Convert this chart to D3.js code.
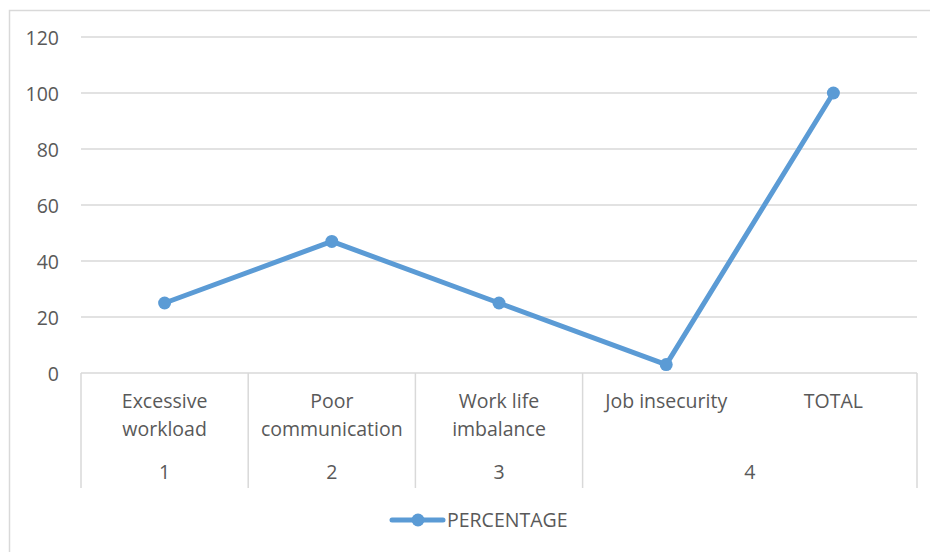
<!DOCTYPE html>
<html>
<head>
<meta charset="utf-8">
<script src="https://cdn.jsdelivr.net/npm/d3@7"></script>
<style>
  html, body { margin: 0; padding: 0; background: #fff; }
  svg { display: block; }
  text { font-family: "Open Sans", "Noto Sans", sans-serif; fill: #595959; }
</style>
</head>
<body>
<svg id="chart" width="930" height="552"></svg>
<script>
// Survey categories (inner level) and their group numbers (outer level)
const categories = ["Excessive workload", "Poor communication", "Work life imbalance", "Job insecurity", "TOTAL"];
const categoryLines = [["Excessive", "workload"], ["Poor", "communication"], ["Work life", "imbalance"], ["Job insecurity"], ["TOTAL"]];
const groupLabels = ["1", "2", "3", "4"];
const groupMembers = [[0], [1], [2], [3, 4]];
const percentage = [25, 47, 25, 3, 100];
const yTicks = [0, 20, 40, 60, 80, 100, 120];
const seriesName = "PERCENTAGE";

const svg = d3.select("#chart");
const W = 930, H = 552;
const plot = { left: 81, right: 917, top: 37, bottom: 373 };
const gridColor = "#d9d9d9";
const lineColor = "#5b9bd5";
const fontSize = 19.5;
const lineWidth = 5;
const markerR = 6.5;

// chart frame
svg.append("rect")
  .attr("x", 9.5).attr("y", 10.5)
  .attr("width", W + 20).attr("height", H + 20)
  .attr("fill", "#fff").attr("stroke", gridColor).attr("stroke-width", 1.5);

const x = d3.scaleBand().domain(d3.range(categories.length)).range([plot.left, plot.right]).padding(0);
const y = d3.scaleLinear().domain([0, 120]).range([plot.bottom, plot.top]);
const cx = i => x(i) + x.bandwidth() / 2;

// horizontal gridlines
svg.append("g").selectAll("line").data(yTicks.filter(t => t > 0)).join("line")
  .attr("x1", plot.left).attr("x2", plot.right)
  .attr("y1", d => y(d)).attr("y2", d => y(d))
  .attr("stroke", gridColor).attr("stroke-width", 1.5);

// value axis labels
const yAxis = d3.axisLeft(y).tickValues(yTicks).tickSize(0).tickPadding(0);
const yG = svg.append("g").attr("transform", `translate(59,0)`).call(yAxis);
yG.select(".domain").remove();
yG.selectAll("text")
  .style("font-family", '"Open Sans", "Noto Sans", sans-serif')
  .attr("font-size", fontSize).attr("fill", "#595959").attr("dy", "0.36em");

// category axis: baseline and group separators
const axisBottom = 488;
svg.append("line")
  .attr("x1", plot.left).attr("x2", plot.right)
  .attr("y1", plot.bottom).attr("y2", plot.bottom)
  .attr("stroke", gridColor).attr("stroke-width", 1.5);

const boundaries = [plot.left].concat(groupMembers.map(g => x(g[g.length - 1]) + x.bandwidth()));
svg.append("g").selectAll("line").data(boundaries).join("line")
  .attr("x1", d => d).attr("x2", d => d)
  .attr("y1", plot.bottom).attr("y2", axisBottom)
  .attr("stroke", gridColor).attr("stroke-width", 1.5);

// inner category labels
const catG = svg.append("g");
categoryLines.forEach((lines, i) => {
  const t = catG.append("text")
    .attr("text-anchor", "middle")
    .attr("font-size", fontSize);
  lines.forEach((ln, k) => {
    t.append("tspan").attr("x", cx(i)).attr("y", 408 + k * 28).text(ln);
  });
});

// outer group labels
svg.append("g").selectAll("text").data(groupLabels).join("text")
  .attr("text-anchor", "middle")
  .attr("font-size", fontSize)
  .attr("x", (d, i) => {
    const m = groupMembers[i];
    return (x(m[0]) + x(m[m.length - 1]) + x.bandwidth()) / 2;
  })
  .attr("y", 479)
  .text(d => d);

// series line and markers
const line = d3.line().x((d, i) => cx(i)).y(d => y(d));
svg.append("path")
  .datum(percentage)
  .attr("d", line)
  .attr("fill", "none")
  .attr("stroke", lineColor)
  .attr("stroke-width", lineWidth)
  .attr("stroke-linejoin", "round")
  .attr("stroke-linecap", "round");

svg.append("g").selectAll("circle").data(percentage).join("circle")
  .attr("cx", (d, i) => cx(i)).attr("cy", d => y(d))
  .attr("r", markerR)
  .attr("fill", lineColor);

// legend
const lg = svg.append("g").attr("transform", "translate(392,520)");
lg.append("line").attr("x1", 0).attr("x2", 51).attr("y1", 0).attr("y2", 0)
  .attr("stroke", lineColor).attr("stroke-width", lineWidth).attr("stroke-linecap", "round");
lg.append("circle").attr("cx", 26).attr("cy", 0).attr("r", markerR).attr("fill", lineColor);
lg.append("text").attr("x", 55).attr("y", 0).attr("dy", "0.36em")
  .attr("font-size", fontSize).text(seriesName);
</script>
</body>
</html>
